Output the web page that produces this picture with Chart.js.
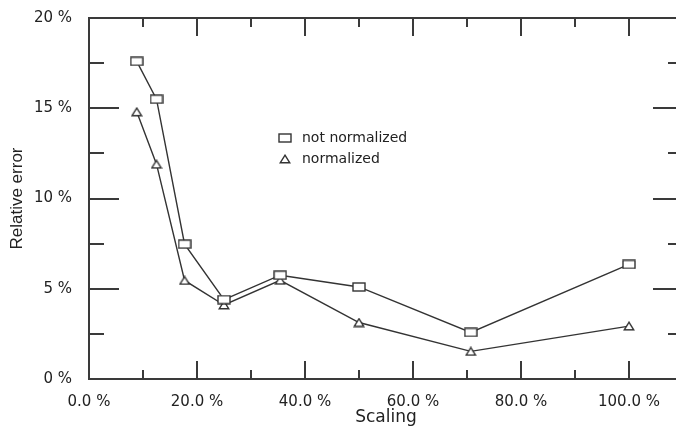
<!DOCTYPE html>
<html>
<head>
<meta charset="utf-8">
<script src="https://cdn.jsdelivr.net/npm/chart.js@4.4.1/dist/chart.umd.min.js"></script>
<style>
  html, body { margin: 0; padding: 0; background: #fff; overflow: hidden; }
  #wrap { width: 676px; height: 430px; overflow: hidden; }
  canvas { display: block; }
</style>
</head>
<body>
<div id="wrap"><canvas id="chart" width="700" height="430"></canvas></div>
<script>
// values
const scaling = [8.84, 12.5, 17.7, 25, 35.4, 50, 70.7, 100];
const notNormalized = [17.6, 15.5, 7.47, 4.4, 5.75, 5.1, 2.58, 6.35];
const normalized = [14.8, 11.9, 5.46, 4.1, 5.47, 3.13, 1.53, 2.93];

const xLabelTicks = [0, 20, 40, 60, 80, 100];
const xMinorTicks = [10, 30, 50, 70, 90, 110];
const yLabelTicks = [0, 5, 10, 15, 20];
const yMinorTicks = [2.5, 7.5, 12.5, 17.5];

const INK = '#333';

function markerRect() {
  const c = document.createElement('canvas');
  c.width = 14; c.height = 10;
  const g = c.getContext('2d');
  g.fillStyle = '#fff';
  g.strokeStyle = INK;
  g.lineWidth = 1.4;
  g.fillRect(1, 1, 12, 8);
  g.strokeRect(1, 1, 12, 8);
  return c;
}

function markerTri() {
  const c = document.createElement('canvas');
  c.width = 12; c.height = 10;
  const g = c.getContext('2d');
  g.fillStyle = '#fff';
  g.strokeStyle = INK;
  g.lineWidth = 1.4;
  g.beginPath();
  g.moveTo(6, 1.2);
  g.lineTo(10.8, 8.8);
  g.lineTo(1.2, 8.8);
  g.closePath();
  g.fill();
  g.stroke();
  return c;
}

const rectImg = markerRect();
const triImg = markerTri();

// frame with inward ticks, like the original plot
const frame = {
  id: 'frame',
  beforeDatasetsDraw(chart) {
    const {ctx, chartArea: a, scales: {x, y}} = chart;
    ctx.save();
    ctx.strokeStyle = '#3a3a3a';
    ctx.lineWidth = 2;
    ctx.strokeRect(a.left, a.top, a.right - a.left, a.bottom - a.top);
    ctx.beginPath();
    const yTick = (v, len) => {
      const py = Math.round(y.getPixelForValue(v));
      ctx.moveTo(a.left, py); ctx.lineTo(a.left + len, py);
      ctx.moveTo(a.right, py); ctx.lineTo(a.right - len, py);
    };
    const xTick = (v, len) => {
      const px = Math.round(x.getPixelForValue(v));
      ctx.moveTo(px, a.bottom); ctx.lineTo(px, a.bottom - len);
      ctx.moveTo(px, a.top); ctx.lineTo(px, a.top + len);
    };
    yLabelTicks.forEach(v => yTick(v, 30));
    yMinorTicks.forEach(v => yTick(v, 15));
    xLabelTicks.forEach(v => xTick(v, 18));
    xMinorTicks.forEach(v => xTick(v, 9));
    ctx.stroke();
    ctx.restore();
  }
};

const legendBox = {
  id: 'legendBox',
  afterDraw(chart) {
    const {ctx, chartArea: a} = chart;
    const x0 = a.left + 196, y0 = a.top + 120;
    ctx.save();
    ctx.font = '14px "DejaVu Sans"';
    ctx.fillStyle = '#222';
    ctx.textBaseline = 'middle';
    chart.data.datasets.forEach((ds, i) => {
      const img = ds.pointStyle;
      const cy = y0 + i * 21;
      ctx.drawImage(img, x0 - img.width / 2, cy - img.height / 2);
      ctx.fillText(ds.label, x0 + 17, cy);
    });
    ctx.restore();
  }
};

new Chart(document.getElementById('chart'), {
  type: 'line',
  data: {
    datasets: [
      {
        label: 'not normalized',
        data: scaling.map((s, i) => ({x: s, y: notNormalized[i]})),
        borderColor: INK,
        borderWidth: 1.4,
        pointStyle: rectImg,
        tension: 0
      },
      {
        label: 'normalized',
        data: scaling.map((s, i) => ({x: s, y: normalized[i]})),
        borderColor: INK,
        borderWidth: 1.4,
        pointStyle: triImg,
        tension: 0
      }
    ]
  },
  options: {
    responsive: false,
    animation: false,
    devicePixelRatio: 1,
    layout: {padding: {top: 15, right: 17, left: 0, bottom: 0}},
    plugins: {legend: {display: false}, tooltip: {enabled: false}},
    scales: {
      x: {
        type: 'linear',
        min: 0,
        max: 110,
        grid: {display: false},
        border: {display: false},
        afterBuildTicks: s => { s.ticks = xLabelTicks.map(v => ({value: v})); },
        afterFit: s => { s.height = 51; },
        ticks: {
          color: '#222',
          padding: 6,
          maxRotation: 0,
          font: {family: 'DejaVu Sans', size: 15},
          callback: v => v.toFixed(1) + ' %'
        },
        title: {
          display: true,
          text: 'Scaling',
          color: '#222',
          padding: {top: 0, bottom: 2},
          font: {family: 'DejaVu Sans', size: 17}
        }
      },
      y: {
        min: 0,
        max: 20,
        grid: {display: false},
        border: {display: false},
        afterBuildTicks: s => { s.ticks = yLabelTicks.map(v => ({value: v})); },
        afterFit: s => { s.width = 89; },
        ticks: {
          color: '#222',
          padding: 9,
          font: {family: 'DejaVu Sans', size: 15},
          callback: v => v + ' %'
        },
        title: {
          display: true,
          text: 'Relative error',
          color: '#222',
          padding: {top: 7, bottom: 0},
          font: {family: 'Liberation Sans', size: 17}
        }
      }
    }
  },
  plugins: [frame, legendBox]
});
</script>
</body>
</html>
